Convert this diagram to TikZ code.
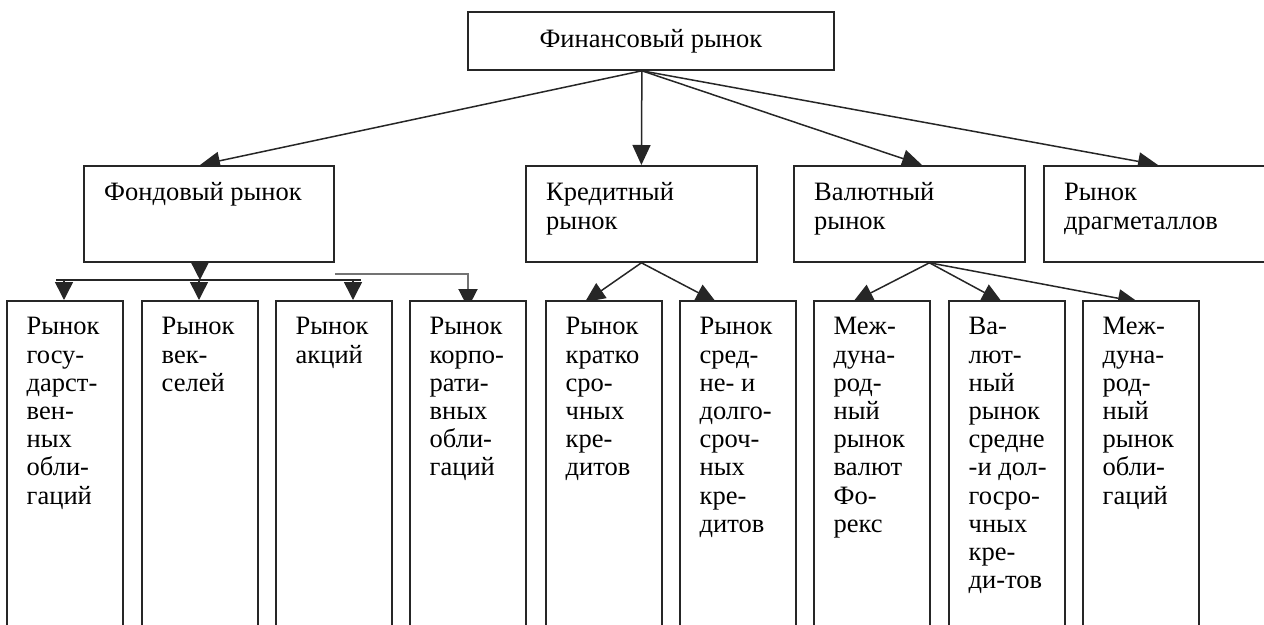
\documentclass[tikz,border=0pt]{standalone}
\usepackage{fontspec}
\setmainfont{Liberation Serif}
\usetikzlibrary{arrows.meta}
\pgfdeclarelayer{bg}
\pgfsetlayers{bg,main}
\begin{document}
\begin{tikzpicture}[x=1pt,y=-1pt,
  box/.style={draw=black!85, line width=1.8pt, fill=white, anchor=north west, inner sep=0pt},
  tallbox/.style={box, minimum width=116pt, minimum height=340pt},
  upbox/.style={box, minimum height=96pt},
  txt/.style={anchor=north west, inner sep=0pt, align=left, font=\fontsize{26.5}{28.2}\selectfont},
  arr/.style={line width=1.5pt, draw=black!85, -{Triangle[length=20pt,width=18pt]}},
  arrv/.style={line width=1.5pt, draw=black!85, -{Triangle[length=18pt,width=18pt]}},
  ln/.style={line width=1.6pt, draw=black!85},
  grayln/.style={line width=2pt, draw=black!55, -{Triangle[length=19pt,width=19pt,color=black!85,fill=black!85]}},
]
\useasboundingbox (0,0) rectangle (1264,624);
\clip (0,0) rectangle (1264,624);

% top
\node[box, minimum width=366pt, minimum height=58pt, font=\fontsize{26.5}{28.2}\selectfont] (fin) at (467,11) {Финансовый рынок};

% second level
\node[upbox, minimum width=250pt] (fond) at (83,165) {};
\node[upbox, minimum width=231pt] (kred) at (525,165) {};
\node[upbox, minimum width=231pt] (val) at (793,165) {};
\node[upbox, minimum width=240pt] (drag) at (1043,165) {};

\node[txt] (fondt) at ([shift={(21pt,-16pt)}]fond.north west) {\strut Фондовый рынок};
\node[txt] (kredt) at ([shift={(21pt,-16pt)}]kred.north west) {\strut Кредитный\\рынок};
\node[txt] (valt) at ([shift={(21pt,-16pt)}]val.north west) {\strut Валютный\\рынок};
\node[txt] (dragt) at ([shift={(21pt,-16pt)}]drag.north west) {\strut Рынок\\драгметаллов};

% third level
\node[tallbox] (b1) at (6,300) {};
\node[tallbox] (b2) at (141,300) {};
\node[tallbox] (b3) at (275,300) {};
\node[tallbox] (b4) at (409,300) {};
\node[tallbox] (b5) at (545,300) {};
\node[tallbox] (b6) at (679,300) {};
\node[tallbox] (b7) at (813,300) {};
\node[tallbox] (b8) at (948,300) {};
\node[tallbox] (b9) at (1082,300) {};

\node[txt] (t1) at ([shift={(20.5pt,-15pt)}]b1.north west) {\strut Рынок\\госу-\\дарст-\\вен-\\ных\\обли-\\гаций};
\node[txt] (t2) at ([shift={(20.5pt,-15pt)}]b2.north west) {\strut Рынок\\век-\\селей};
\node[txt] (t3) at ([shift={(20.5pt,-15pt)}]b3.north west) {\strut Рынок\\акций};
\node[txt] (t4) at ([shift={(20.5pt,-15pt)}]b4.north west) {\strut Рынок\\корпо-\\рати-\\вных\\обли-\\гаций};
\node[txt] (t5) at ([shift={(20.5pt,-15pt)}]b5.north west) {\strut Рынок\\кратко\\сро-\\чных\\кре-\\дитов};
\node[txt] (t6) at ([shift={(20.5pt,-15pt)}]b6.north west) {\strut Рынок\\сред-\\не- и\\долго-\\сроч-\\ных\\кре-\\дитов};
\node[txt] (t7) at ([shift={(20.5pt,-15pt)}]b7.north west) {\strut Меж-\\дуна-\\род-\\ный\\рынок\\валют\\Фо-\\рекс};
\node[txt] (t8) at ([shift={(20.5pt,-15pt)}]b8.north west) {\strut Ва-\\лют-\\ный\\рынок\\средне\\-и дол-\\госро-\\чных\\кре-\\ди-тов};
\node[txt] (t9) at ([shift={(20.5pt,-15pt)}]b9.north west) {\strut Меж-\\дуна-\\род-\\ный\\рынок\\обли-\\гаций};

% connectors
\coordinate (apex) at ([xshift=-9pt]fin.south);
\coordinate (kapex) at (kred.south);
\coordinate (vapex) at ([xshift=20pt]val.south);
\coordinate (fapex) at ([xshift=-9pt]fond.south);
\coordinate (busL) at (56,280);
\coordinate (busR) at (361,280);
\coordinate (g0) at ([yshift=-11pt]fond.south east);

\coordinate (a1) at ([xshift=58pt]b1.north west);
\coordinate (a2) at ([xshift=58pt]b2.north west);
\coordinate (a3) at ([xshift=78pt]b3.north west);
\coordinate (a4) at ([xshift=59pt,yshift=-8pt]b4.north west);
\coordinate (a5) at ([xshift=40pt,yshift=-2pt]b5.north west);
\coordinate (a6) at ([xshift=37pt,yshift=-2pt]b6.north west);
\coordinate (a7) at ([xshift=40pt,yshift=-2pt]b7.north west);
\coordinate (a8) at ([xshift=54pt,yshift=-2pt]b8.north west);
\coordinate (a9) at ([xshift=56pt,yshift=-2pt]b9.north west);

\begin{pgfonlayer}{bg}
\draw[arr] (apex) -- ([xshift=117pt]fond.north west);
\draw[arr] (apex) -- (kred.north);
\draw[arr] (apex) -- ([xshift=129pt]val.north west);
\draw[arr] (apex) -- ([xshift=115pt]drag.north west);

\draw[arrv] (fapex) -- (fapex |- busL);
\draw[ln] (busL) -- (busR);
\draw[arrv] (a1 |- busL) -- (a1);
\draw[arrv] (a2 |- busL) -- (a2);
\draw[arrv] (a3 |- busL) -- (a3);
\draw[grayln] (g0) -| (a4);

\draw[arr] (kapex) -- (a5);
\draw[arr] (kapex) -- (a6);
\draw[arr] (vapex) -- (a7);
\draw[arr] (vapex) -- (a8);
\draw[arr] (vapex) -- (a9);
\end{pgfonlayer}
\end{tikzpicture}
\end{document}
